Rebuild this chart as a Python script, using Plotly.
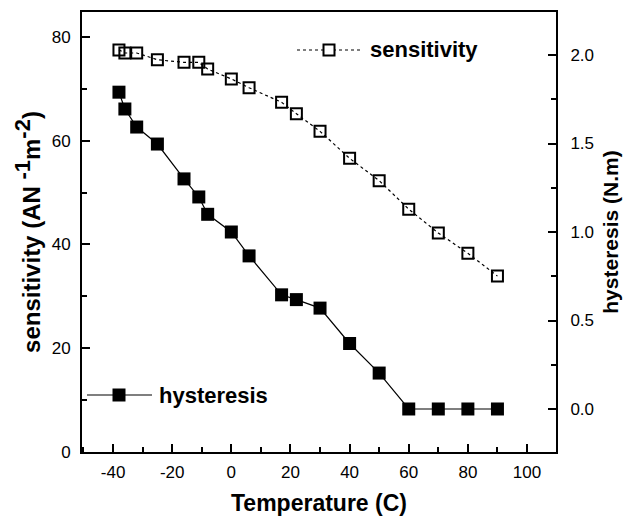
import plotly.graph_objects as go

# ---- data ----
temperature = [-38, -36, -32, -25, -16, -11, -8, 0, 6, 17, 22, 30, 40, 50, 60, 70, 80, 90]
sensitivity = [77.5, 76.9, 76.9, 75.6, 75.1, 75.1, 73.8, 71.9, 70.2, 67.4, 65.2, 61.8,
               56.6, 52.3, 46.8, 42.2, 38.3, 33.9]
hysteresis = [1.79, 1.695, 1.593, 1.497, 1.30, 1.198, 1.10, 1.00, 0.865, 0.645, 0.618, 0.57,
              0.37, 0.203, 0.0, 0.0, 0.0, 0.0]

x_ticks = [-40, -20, 0, 20, 40, 60, 80, 100]
x_ticktext = ["-40", "-20", "0", "20", "40", "60", "80", "100"]
y_ticks = [0, 20, 40, 60, 80]
y2_ticks = [0.0, 0.5, 1.0, 1.5, 2.0]

FONT = "Liberation Sans, Arial, sans-serif"
BLACK = "#000000"

fig = go.Figure()
fig.add_trace(go.Scatter(
    x=temperature, y=sensitivity, name="sensitivity", mode="lines+markers",
    line=dict(color=BLACK, width=1.2, dash="dot"),
    marker=dict(symbol="square-open", size=11, color=BLACK, line=dict(width=2, color=BLACK)),
    yaxis="y", showlegend=False,
))
fig.add_trace(go.Scatter(
    x=temperature, y=hysteresis, name="hysteresis", mode="lines+markers",
    line=dict(color=BLACK, width=1.2),
    marker=dict(symbol="square", size=13, color=BLACK),
    yaxis="y2", showlegend=False,
))

# ---- legend samples (drawn in paper space) ----
L, R, T, B = 82, 76, 12, 67
W, H = 632 - L - R, 519 - T - B

def px(xp):
    return (xp - L) / W

def py(yp):
    return (519 - B - yp) / H

legend_items = [
    # (label, y px, line x0, line x1, marker x, text x, dash, filled)
    ("sensitivity", 50, 297, 362, 329, 368, "dot", False),
    ("hysteresis", 395, 87, 152, 119, 157, "solid", True),
]
shapes = []
annotations = []
for label, ypx, lx0, lx1, mx, tx, dash, filled in legend_items:
    shapes.append(dict(type="line", xref="paper", yref="paper",
                       x0=px(lx0), x1=px(lx1), y0=py(ypx), y1=py(ypx),
                       line=dict(color=BLACK, width=1.2, dash=dash)))
    s = 6.5 if filled else 5.5
    shapes.append(dict(type="rect", xref="paper", yref="paper",
                       xsizemode="pixel", ysizemode="pixel",
                       xanchor=px(mx), yanchor=py(ypx),
                       x0=-s, x1=s, y0=-s, y1=s,
                       fillcolor=BLACK if filled else "white",
                       line=dict(color=BLACK, width=2 if not filled else 0)))
    annotations.append(dict(xref="paper", yref="paper", x=px(tx), y=py(ypx),
                            xanchor="left", yanchor="middle", showarrow=False,
                            text=label, font=dict(family=FONT, size=22, color=BLACK, weight="bold")))

axis_common = dict(
    showline=True, linecolor=BLACK, linewidth=2, ticks="inside", ticklen=8, tickwidth=1.5,
    tickcolor=BLACK, showgrid=False, zeroline=False, automargin=False,
    tickfont=dict(family=FONT, size=17, color=BLACK),
)

fig.update_layout(
    width=632, height=519,
    margin=dict(l=L, r=R, t=T, b=B, autoexpand=False),
    paper_bgcolor="white", plot_bgcolor="white",
    font=dict(family=FONT, color=BLACK),
    shapes=shapes, annotations=annotations,
    xaxis=dict(
        **axis_common, range=[-50.5, 109.8], mirror=True,
        tickvals=x_ticks, ticktext=x_ticktext, ticklabelstandoff=4,
        minor=dict(dtick=10, tick0=0, ticks="inside", ticklen=5, tickwidth=1.5, tickcolor=BLACK),
        title=dict(text="Temperature (C)", standoff=13,
                   font=dict(family=FONT, size=23, color=BLACK, weight="bold")),
    ),
    yaxis=dict(
        **axis_common, range=[0, 84.8], tickvals=y_ticks, ticklabelstandoff=6,
        minor=dict(dtick=10, tick0=0, ticks="inside", ticklen=5, tickwidth=1.5, tickcolor=BLACK),
        title=dict(text="sensitivity (AN&nbsp;<sup><span style='font-size:22px'>-1</span></sup>m<sup><span style='font-size:22px'>-2</span></sup>)",
                   standoff=4,
                   font=dict(family=FONT, size=24, color=BLACK, weight="bold")),
    ),
    yaxis2=dict(
        **axis_common, range=[-0.243, 2.243], overlaying="y", side="right",
        tickvals=y2_ticks, tickformat=".1f", ticklabelstandoff=9,
        minor=dict(dtick=0.25, tick0=0, ticks="inside", ticklen=5, tickwidth=1.5, tickcolor=BLACK),
        title=dict(text="hysteresis (N.m)", standoff=10,
                   font=dict(family=FONT, size=21, color=BLACK, weight="bold")),
    ),
)

fig.write_html("out.html", config={"displayModeBar": False},
               post_script="document.body.style.margin='0';")
